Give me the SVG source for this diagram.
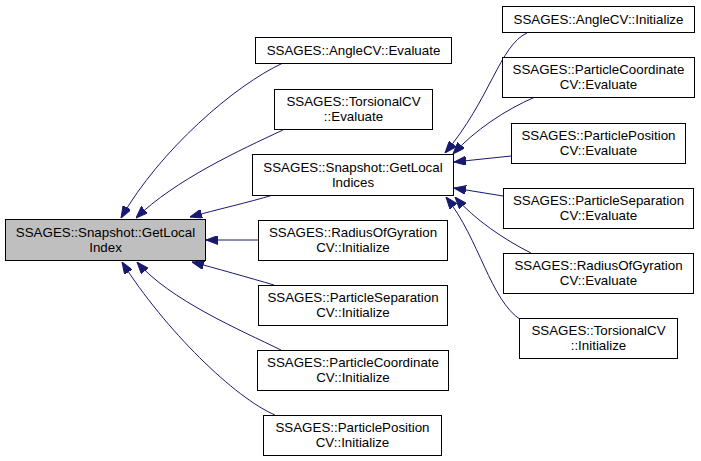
<svg xmlns="http://www.w3.org/2000/svg" width="701" height="461" viewBox="0 0 701 461">
<style>
.box{fill:#fff;stroke:#000;stroke-width:1}
.main{fill:#bfbfbf;stroke:#000;stroke-width:1}
text{font-family:"Liberation Sans",Arial,sans-serif;font-size:13.33px;fill:#000;text-anchor:middle}
.edge{fill:none;stroke:#191970;stroke-width:1;marker-end:url(#ah)}
</style>
<defs>
<marker id="ah" viewBox="0 0 12 9" refX="12" refY="4.5" markerWidth="12" markerHeight="9" markerUnits="userSpaceOnUse" orient="auto">
<path d="M0,0 L12,4.5 L0,9 z" fill="#191970" stroke="#191970" stroke-width="1"/>
</marker>
</defs>
<rect width="701" height="461" fill="#fff"/>
<g id="edges">
<path class="edge" d="M283,63 C235,85 160,150 121,218"/>
<path class="edge" d="M283,130 C240,150 175,180 136,218"/>
<path class="edge" d="M273,195 C250,202 215,210 190,217"/>
<path class="edge" d="M258,240 L206,240"/>
<path class="edge" d="M274,285 C250,278 215,268 192,262"/>
<path class="edge" d="M281,350 C240,330 170,300 137,262"/>
<path class="edge" d="M275,415 C235,398 165,330 122,262"/>
<path class="edge" d="M527,33 C500,45 490,100 445,153"/>
<path class="edge" d="M535,97 C505,110 475,130 453,154"/>
<path class="edge" d="M511,156 L454,162"/>
<path class="edge" d="M503,196 L454,188"/>
<path class="edge" d="M531,253 C505,240 475,220 455,197"/>
<path class="edge" d="M521,320 C490,300 480,240 446,197"/>
</g>
<g id="n_main"><rect class="main" x="5.5" y="219.5" width="200" height="41"/><text x="105.5" y="237">SSAGES::Snapshot::GetLocal</text><text x="105.5" y="252">Index</text></g>
<g id="n_angle_eval"><rect class="box" x="255.5" y="37.5" width="196" height="26"/><text x="353.5" y="55">SSAGES::AngleCV::Evaluate</text></g>
<g id="n_tors_eval"><rect class="box" x="274.5" y="89.5" width="158" height="40"/><text x="353.5" y="106">SSAGES::TorsionalCV</text><text x="353.5" y="121">::Evaluate</text></g>
<g id="n_indices"><rect class="box" x="252.5" y="154.5" width="201" height="41"/><text x="353" y="172">SSAGES::Snapshot::GetLocal</text><text x="353" y="187">Indices</text></g>
<g id="n_rog_init"><rect class="box" x="258.5" y="220.5" width="189" height="40"/><text x="353" y="237">SSAGES::RadiusOfGyration</text><text x="353" y="252">CV::Initialize</text></g>
<g id="n_sep_init"><rect class="box" x="258.5" y="285.5" width="189" height="40"/><text x="353" y="302">SSAGES::ParticleSeparation</text><text x="353" y="317">CV::Initialize</text></g>
<g id="n_coord_init"><rect class="box" x="257.5" y="350.5" width="191" height="40"/><text x="353" y="367">SSAGES::ParticleCoordinate</text><text x="353" y="382">CV::Initialize</text></g>
<g id="n_pos_init"><rect class="box" x="263.5" y="415.5" width="178" height="40"/><text x="352.5" y="432">SSAGES::ParticlePosition</text><text x="352.5" y="447">CV::Initialize</text></g>
<g id="n_angle_init"><rect class="box" x="502.5" y="6.5" width="192" height="26"/><text x="598.5" y="24">SSAGES::AngleCV::Initialize</text></g>
<g id="n_coord_eval"><rect class="box" x="502.5" y="57.5" width="192" height="40"/><text x="598.5" y="74">SSAGES::ParticleCoordinate</text><text x="598.5" y="89">CV::Evaluate</text></g>
<g id="n_pos_eval"><rect class="box" x="511.5" y="123.5" width="174" height="40"/><text x="598.5" y="140">SSAGES::ParticlePosition</text><text x="598.5" y="155">CV::Evaluate</text></g>
<g id="n_sep_eval"><rect class="box" x="503.5" y="188.5" width="190" height="40"/><text x="598.5" y="205">SSAGES::ParticleSeparation</text><text x="598.5" y="220">CV::Evaluate</text></g>
<g id="n_rog_eval"><rect class="box" x="503.5" y="253.5" width="190" height="40"/><text x="598.5" y="270">SSAGES::RadiusOfGyration</text><text x="598.5" y="285">CV::Evaluate</text></g>
<g id="n_tors_init"><rect class="box" x="519.5" y="318.5" width="158" height="40"/><text x="598.5" y="335">SSAGES::TorsionalCV</text><text x="598.5" y="350">::Initialize</text></g>
</svg>
